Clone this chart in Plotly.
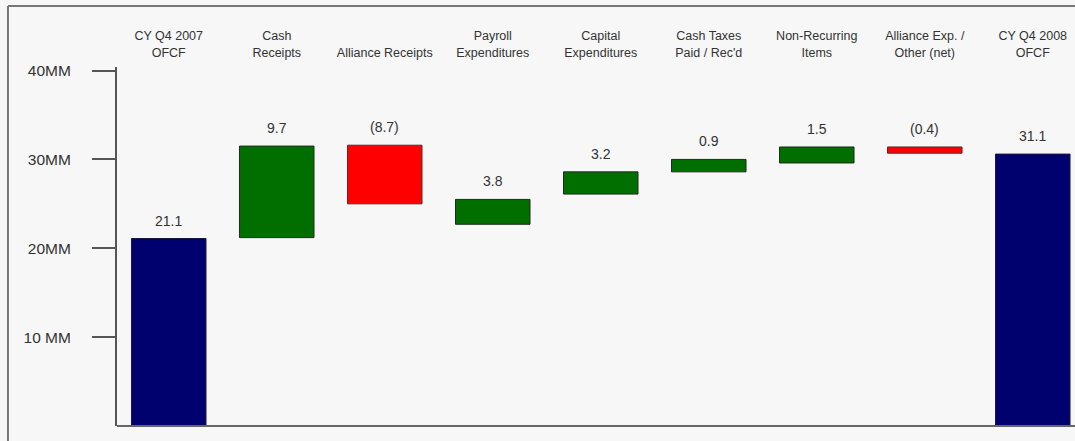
import plotly.graph_objects as go

categories = ["CY Q4 2007<br>OFCF", "Cash<br>Receipts", "Alliance Receipts", "Payroll<br>Expenditures",
              "Capital<br>Expenditures", "Cash Taxes<br>Paid / Rec'd", "Non-Recurring<br>Items",
              "Alliance Exp. /<br>Other (net)", "CY Q4 2008<br>OFCF"]
value_labels = ["21.1", "9.7", "(8.7)", "3.8", "3.2", "0.9", "1.5", "(0.4)", "31.1"]
bar_low = [0, 21.2, 25.0, 22.7, 26.1, 28.6, 29.6, 30.7, 0]
bar_high = [21.1, 31.5, 31.6, 25.5, 28.6, 30.0, 31.4, 31.4, 30.6]
bar_kind = ["total", "up", "down", "up", "up", "up", "up", "down", "total"]
y_tick_vals = [10, 20, 30, 40]
y_tick_text = ["10 MM", "20MM", "30MM", "40MM"]

kind_color = {"total": "#00006e", "up": "#006f00", "down": "#ff0000"}
kind_line = {"total": "#1a1a40", "up": "#1f2a1f", "down": "#5a2a2a"}

fig = go.Figure()
fig.add_trace(go.Bar(
    x=categories,
    y=[h - l for h, l in zip(bar_high, bar_low)],
    base=bar_low,
    width=0.69,
    marker=dict(color=[kind_color[k] for k in bar_kind],
                line=dict(color=[kind_line[k] for k in bar_kind], width=1)),
    hoverinfo="skip",
))

for c, h, t in zip(categories, bar_high, value_labels):
    fig.add_annotation(x=c, y=h, text=t, showarrow=False, yanchor="bottom", yshift=8,
                       font=dict(family="Liberation Sans, Arial", size=14, color="#333333"))

frame = "#777777"
fig.add_shape(type="line", xref="paper", yref="paper", x0=0, x1=1, y0=0, y1=0,
              line=dict(color="#666666", width=2))
fig.add_shape(type="line", xref="paper", yref="paper", x0=-0.1138, x1=1.0, y0=1.17, y1=1.17,
              line=dict(color=frame, width=2))
fig.add_shape(type="line", xref="paper", yref="paper", x0=-0.1138, x1=-0.1138, y0=1.17, y1=-0.05,
              line=dict(color=frame, width=2))

fig.update_layout(
    width=1075, height=441,
    margin=dict(l=117, r=0, t=67, b=15),
    paper_bgcolor="#f7f7f7", plot_bgcolor="#f7f7f7",
    showlegend=False,
    xaxis=dict(side="top", range=[-0.479, 8.391], showline=False, ticks="", showgrid=False,
               zeroline=False, ticklabelstandoff=7,
               tickfont=dict(family="Liberation Sans, Arial", size=12.5, color="#333333")),
    yaxis=dict(range=[0, 40.4], tickvals=y_tick_vals, ticktext=y_tick_text, showgrid=False,
               zeroline=False, showline=True, linecolor="#555555", linewidth=2,
               ticks="outside", ticklen=23, tickwidth=2, tickcolor="#555555",
               ticklabelstandoff=18,
               tickfont=dict(family="Liberation Sans, Arial", size=15.5, color="#333333")),
)

fig.write_html("out.html", config={"displayModeBar": False},
               post_script="document.body.style.margin='0';document.body.style.overflow='hidden';")
